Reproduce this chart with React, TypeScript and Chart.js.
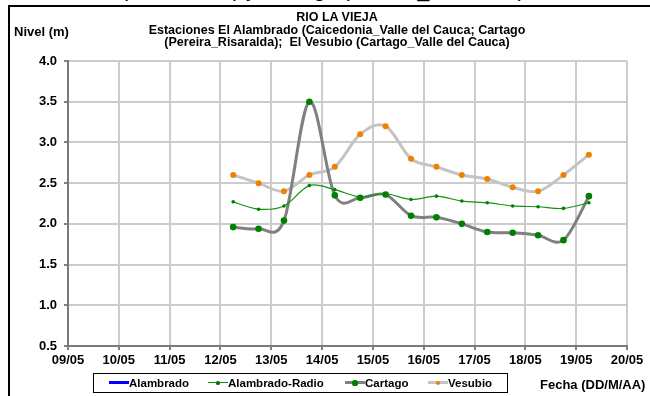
import React, { useEffect, useRef } from "react";
import { Chart, registerables } from "chart.js";
Chart.register(...registerables);

const FONT = '"Liberation Sans", Arial, Helvetica, sans-serif';

// X axis: day-of-May positions and their labels
const dayTicks = [9, 10, 11, 12, 13, 14, 15, 16, 17, 18, 19, 20];
const tickLabels = ["09/05", "10/05", "11/05", "12/05", "13/05", "14/05", "15/05", "16/05", "17/05", "18/05", "19/05", "20/05"];
const yTicks = [0.5, 1.0, 1.5, 2.0, 2.5, 3.0, 3.5, 4.0];

// Sample times (day of May, 06:00 and 18:00 readings)
const sampleDays = [12.25, 12.75, 13.25, 13.75, 14.25, 14.75, 15.25, 15.75, 16.25, 16.75, 17.25, 17.75, 18.25, 18.75, 19.25];

// Series values (m)
const alambrado: number[] = [];
const alambradoRadio = [2.27, 2.18, 2.22, 2.47, 2.42, 2.33, 2.37, 2.3, 2.34, 2.28, 2.26, 2.22, 2.21, 2.19, 2.26];
const cartago = [1.96, 1.94, 2.04, 3.5, 2.35, 2.32, 2.36, 2.1, 2.08, 2.0, 1.9, 1.89, 1.86, 1.8, 2.34];
const vesubio = [2.6, 2.5, 2.4, 2.6, 2.7, 3.1, 3.2, 2.8, 2.7, 2.6, 2.55, 2.45, 2.4, 2.6, 2.85];

const toPts = (vals: number[]) => vals.map((y, i) => ({ x: sampleDays[i], y }));

// Spreadsheet-style smoothing: control points at 1/6 of the neighbour chord
const smoothPlugin = {
  id: "sheetSmooth",
  beforeDatasetDraw(chart: any, args: any) {
    const meta = args.meta;
    const line = meta.dataset;
    if (!line || !line.options || !line.options.tension) return;
    const pts = meta.data;
    const n = pts.length;
    for (let i = 0; i < n; i++) {
      const p = pts[i];
      const prev = pts[Math.max(0, i - 1)];
      const next = pts[Math.min(n - 1, i + 1)];
      const dx = (next.x - prev.x) / 6;
      const dy = (next.y - prev.y) / 6;
      p.cp1x = p.x - dx;
      p.cp1y = p.y - dy;
      p.cp2x = p.x + dx;
      p.cp2y = p.y + dy;
    }
    line._pointsUpdated = true;
  },
};

function Sample({ line, lw, dot, r }: { line: string; lw: number; dot?: string; r?: number }) {
  return (
    <span style={{ position: "relative", display: "inline-block", width: 20, height: 10, verticalAlign: "middle", marginTop: -2 }}>
      <span style={{ position: "absolute", left: 0, right: 0, top: 5 - lw / 2, height: lw, background: line }} />
      {dot ? (
        <span style={{ position: "absolute", left: 10 - (r as number), top: 5 - (r as number), width: 2 * (r as number), height: 2 * (r as number), borderRadius: "50%", background: dot }} />
      ) : null}
    </span>
  );
}

export default function App() {
  const ref = useRef<HTMLCanvasElement | null>(null);

  useEffect(() => {
    const canvas = ref.current;
    if (!canvas) return;
    const tickFont = { family: FONT, size: 13, weight: "bold" as const };
    const chart = new Chart(canvas, {
      type: "line",
      data: {
        datasets: [
          {
            label: "Alambrado",
            data: toPts(alambrado),
            borderColor: "#0000ff",
            backgroundColor: "#0000ff",
            borderWidth: 3,
            pointRadius: 0,
          },
          {
            label: "Alambrado-Radio",
            data: toPts(alambradoRadio),
            borderColor: "#119311",
            backgroundColor: "#008000",
            borderWidth: 1.2,
            pointRadius: 1.8,
            pointBorderWidth: 0,
            tension: 0.4,
          },
          {
            label: "Cartago",
            data: toPts(cartago),
            borderColor: "#808080",
            backgroundColor: "#008000",
            borderWidth: 3,
            pointRadius: 3.3,
            pointBorderWidth: 0,
            tension: 0.4,
          },
          {
            label: "Vesubio",
            data: toPts(vesubio),
            borderColor: "#c4c4c4",
            backgroundColor: "#f08000",
            borderWidth: 3,
            pointRadius: 3,
            pointBorderWidth: 0,
            tension: 0.4,
          },
        ],
      },
      options: {
        animation: false,
        responsive: false,
        maintainAspectRatio: false,
        layout: { padding: { left: 0, right: 23, top: 61, bottom: 0 } },
        plugins: {
          legend: { display: false },
          title: { display: false },
          tooltip: { enabled: false },
        },
        scales: {
          x: {
            type: "linear",
            min: dayTicks[0],
            max: dayTicks[dayTicks.length - 1],
            afterBuildTicks: (s: any) => {
              s.ticks = dayTicks.map((v) => ({ value: v }));
            },
            ticks: {
              callback: (v: any) => tickLabels[dayTicks.indexOf(Number(v))],
              font: tickFont,
              color: "#000",
              padding: 3,
              maxRotation: 0,
              autoSkip: false,
            },
            grid: { color: "#cccccc", lineWidth: 2, tickLength: 4, tickColor: "#808080" },
            border: { color: "#7a7a7a", width: 2 },
            afterFit: (s: any) => {
              s.height = 50;
            },
          },
          y: {
            min: yTicks[0],
            max: yTicks[yTicks.length - 1],
            afterBuildTicks: (s: any) => {
              s.ticks = yTicks.map((v) => ({ value: v }));
            },
            ticks: {
              callback: (v: any) => Number(v).toFixed(1),
              font: tickFont,
              color: "#000",
              padding: 7,
            },
            grid: { color: "#cccccc", lineWidth: 2, tickLength: 4, tickColor: "#808080" },
            border: { color: "#7a7a7a", width: 2 },
            afterFit: (s: any) => {
              s.width = 68;
            },
          },
        },
      },
      plugins: [smoothPlugin],
    } as any);
    return () => chart.destroy();
  }, []);

  const bold = { fontFamily: FONT, fontWeight: "bold" as const, color: "#000", whiteSpace: "nowrap" as const };

  return (
    <div style={{ position: "fixed", left: 0, top: 0, width: 650, height: 396, overflow: "hidden", background: "#fff" }}>
      {/* clipped text from the element above */}
      <div style={{ position: "absolute", left: 0, top: 0, width: 650, height: 6, overflow: "hidden" }}>
        <div style={{ fontFamily: FONT, fontWeight: "normal", color: "#000", whiteSpace: "nowrap", position: "absolute", left: 121, top: -21, fontSize: 21, lineHeight: "21px" }}>
          (Caicedonia) y Cartago (Pereira_Risaralda)
        </div>
      </div>
      <div style={{ position: "absolute", left: 8, top: 5, width: 660, height: 400, borderLeft: "2px solid #000", borderTop: "2px solid #000" }} />
      <canvas ref={ref} width={650} height={396} style={{ position: "absolute", left: 0, top: 0, width: 650, height: 396 }} />
      <div style={{ ...bold, position: "absolute", left: 14, top: 24, fontSize: 13, lineHeight: "15px" }}>Nivel (m)</div>
      <div style={{ ...bold, position: "absolute", left: 337, top: 11, transform: "translateX(-50%)", fontSize: 12.5, lineHeight: "12.5px", textAlign: "center" }}>
        <div>RIO LA VIEJA</div>
        <div>Estaciones El Alambrado (Caicedonia_Valle del Cauca; Cartago</div>
        <div>(Pereira_Risaralda);&nbsp; El Vesubio (Cartago_Valle del Cauca)</div>
      </div>
      <div style={{ ...bold, position: "absolute", left: 540, top: 377, fontSize: 13, lineHeight: "15px" }}>Fecha (DD/M/AA)</div>
      <div style={{ position: "absolute", left: 93, top: 373, width: 413, height: 18, border: "1px solid #000", background: "#fff", ...bold, fontSize: 11.5, lineHeight: "18px" }}>
        <span style={{ position: "absolute", left: 15, top: 0 }}><Sample line="#0000ff" lw={3} />Alambrado</span>
        <span style={{ position: "absolute", left: 114, top: 0 }}><Sample line="#119311" lw={1} dot="#008000" r={1.6} />Alambrado-Radio</span>
        <span style={{ position: "absolute", left: 251, top: 0 }}><Sample line="#808080" lw={3} dot="#008000" r={2.6} />Cartago</span>
        <span style={{ position: "absolute", left: 334, top: 0 }}><Sample line="#c4c4c4" lw={3} dot="#f08000" r={2.3} />Vesubio</span>
      </div>
    </div>
  );
}
